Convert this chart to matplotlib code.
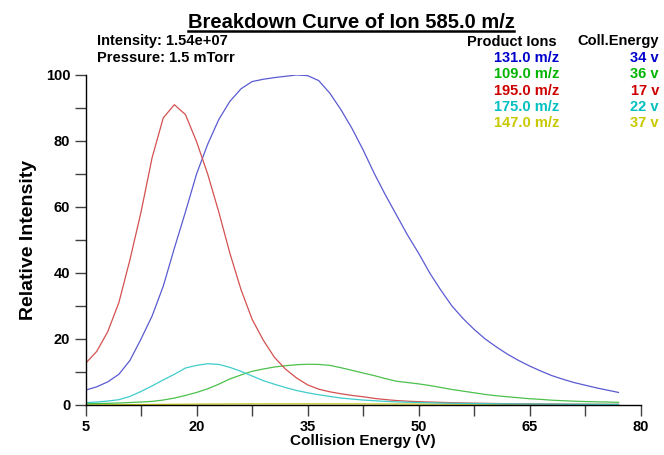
import matplotlib
matplotlib.use("Agg")
import matplotlib.pyplot as plt
from matplotlib.lines import Line2D

plt.rcParams['font.family'] = ['Liberation Sans', 'DejaVu Sans']

# collision energy grid (V), 1.5 V steps
energy = [5, 6.5, 8, 9.5, 11, 12.5, 14, 15.5, 17, 18.5, 20, 21.5, 23, 24.5, 26, 27.5,
          29, 30.5, 32, 33.5, 35, 36.5, 38, 39.5, 41, 42.5, 44, 45.5, 47, 48.5, 50, 51.5,
          53, 54.5, 56, 57.5, 59, 60.5, 62, 63.5, 65, 66.5, 68, 69.5, 71, 72.5, 74, 75.5, 77]

ion_131 = [4.5, 5.5, 7.0, 9.3, 13.5, 20, 27, 36, 47.5, 58.5, 70, 79, 86.5, 92, 95.8, 98,
           98.7, 99.2, 99.6, 100, 99.8, 98.3, 94.5, 89.5, 83.8, 77.3, 70.2, 63.7, 57.6, 51.5, 46, 40,
           34.8, 30, 26.2, 22.9, 20, 17.6, 15.4, 13.5, 11.8, 10.3, 8.9, 7.8, 6.8, 6.0, 5.2, 4.5, 3.8]
ion_109 = [0.4, 0.45, 0.5, 0.6, 0.75, 0.9, 1.1, 1.5, 2.1, 2.9, 3.8, 4.9, 6.3, 7.9, 9.1, 10.2,
           10.9, 11.5, 11.9, 12.2, 12.35, 12.3, 12.0, 11.3, 10.5, 9.7, 8.9, 8.0, 7.2, 6.8, 6.4, 5.9,
           5.3, 4.7, 4.2, 3.7, 3.2, 2.8, 2.5, 2.2, 1.9, 1.7, 1.45, 1.3, 1.15, 1.05, 0.95, 0.9, 0.8]
ion_195 = [12.6, 16.2, 22.2, 31, 44, 58.5, 75, 87, 91, 88, 79.8, 70, 58.5, 46, 35, 26,
           19.7, 14.5, 10.9, 8.2, 6.1, 4.8, 4.0, 3.4, 2.9, 2.5, 2.0, 1.65, 1.35, 1.15, 1.0, 0.9,
           0.8, 0.7, 0.62, 0.55, 0.5, 0.45, 0.4, 0.37, 0.34, 0.31, 0.28, 0.26, 0.24, 0.22, 0.2, 0.19, 0.18]
ion_175 = [0.7, 0.9, 1.2, 1.6, 2.6, 4.1, 5.8, 7.6, 9.3, 11.2, 12.0, 12.5, 12.3, 11.4, 10.2, 8.8,
           7.4, 6.3, 5.3, 4.4, 3.7, 3.1, 2.6, 2.1, 1.8, 1.5, 1.3, 1.1, 0.95, 0.85, 0.75, 0.67,
           0.6, 0.54, 0.49, 0.45, 0.41, 0.38, 0.35, 0.32, 0.3, 0.28, 0.26, 0.24, 0.22, 0.21, 0.2, 0.19, 0.18]
ion_147 = [0.05, 0.06, 0.08, 0.1, 0.12, 0.14, 0.16, 0.19, 0.21, 0.24, 0.26, 0.28, 0.3, 0.31, 0.32, 0.33,
           0.34, 0.35, 0.35, 0.36, 0.36, 0.36, 0.35, 0.35, 0.34, 0.33, 0.32, 0.31, 0.3, 0.29, 0.28, 0.27,
           0.26, 0.25, 0.24, 0.23, 0.22, 0.21, 0.2, 0.2, 0.19, 0.18, 0.18, 0.17, 0.17, 0.16, 0.16, 0.15, 0.15]

ion_labels = ["131.0 m/z", "109.0 m/z", "195.0 m/z", "175.0 m/z", "147.0 m/z"]
coll_energy = ["34 v", "36 v", "17 v", "22 v", "37 v"]
line_colors = ["#5a5ad2", "#4cc04c", "#d45050", "#40cccc", "#c8c820"]
text_colors = ["#0000cc", "#00b400", "#cc0000", "#00c0c0", "#c8c800"]
series = [ion_131, ion_109, ion_195, ion_175, ion_147]

x_major = [5, 20, 35, 50, 65, 80]
x_minor = [12.5, 27.5, 42.5, 57.5, 72.5]
y_major = [0, 20, 40, 60, 80, 100]
y_minor = [10, 30, 50, 70, 90]

fig = plt.figure(figsize=(6.64, 4.55), dpi=100)
ax = fig.add_axes([0.1288, 0.1099, 0.8361, 0.7253])

# yellow first so the others sit on top of it near the baseline
order = [4, 0, 1, 2, 3]
for i in order:
    ax.plot(energy, series[i], color=line_colors[i], lw=0.9)

ax.set_xlim(5, 80)
ax.set_ylim(0, 100)
ax.set_xticks(x_major)
ax.set_xticks(x_minor, minor=True)
ax.set_yticks(y_major)
ax.set_yticks(y_minor, minor=True)
for s in ["top", "right"]:
    ax.spines[s].set_visible(False)
for s in ["left", "bottom"]:
    ax.spines[s].set_linewidth(1.0)
ax.tick_params(which="both", direction="out", length=8, width=1, color="#404040")
ax.tick_params(which="major", labelsize=10.5, pad=3)
for lab in ax.get_xticklabels() + ax.get_yticklabels():
    lab.set_fontweight("bold")

ax.set_xlabel("Collision Energy (V)", fontsize=11, fontweight="bold", labelpad=0)
ax.set_ylabel("Relative Intensity", fontsize=14, fontweight="bold", labelpad=6)

title = fig.text(351 / 664, 1 - 28 / 455, "Breakdown Curve of Ion 585.0 m/z", ha="center", va="baseline",
                 fontsize=14.5, fontweight="bold")

hs = 10.5
fig.text(97 / 664, 1 - 45.5 / 455, "Intensity: 1.54e+07", fontsize=hs, fontweight="bold", va="baseline")
fig.text(97 / 664, 1 - 62 / 455, "Pressure: 1.5 mTorr", fontsize=hs, fontweight="bold", va="baseline")
fig.text(557 / 664, 1 - 45.5 / 455, "Product Ions", fontsize=hs, fontweight="bold", ha="right", va="baseline")
fig.text(659 / 664, 1 - 45.5 / 455, "Coll.Energy", fontsize=hs, fontweight="bold", ha="right", va="baseline")
for k in range(len(ion_labels)):
    y = 1 - (62 + 16.3 * k) / 455
    fig.text(559 / 664, y, ion_labels[k], fontsize=hs, fontweight="bold", ha="right", va="baseline",
             color=text_colors[k])
    fig.text(659 / 664, y, coll_energy[k], fontsize=hs, fontweight="bold", ha="right", va="baseline",
             color=text_colors[k])

# underline the title
fig.canvas.draw()
bb = title.get_window_extent().transformed(fig.transFigure.inverted())
yl = bb.y0 + 1.5 / 455
fig.add_artist(Line2D([bb.x0, bb.x1], [yl, yl], color="black", lw=1.8,
                      transform=fig.transFigure))

fig.savefig("out.png", dpi=100)
